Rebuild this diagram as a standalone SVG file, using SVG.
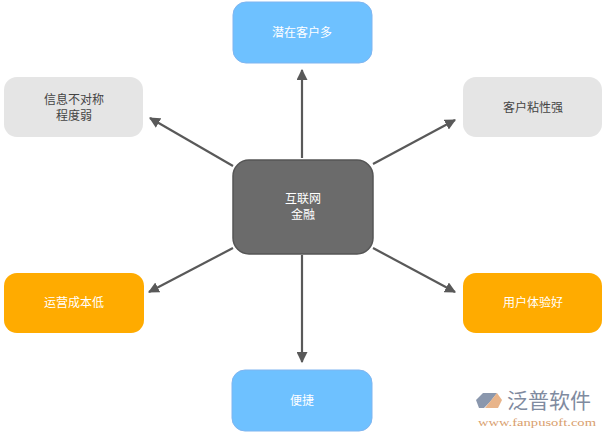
<svg xmlns="http://www.w3.org/2000/svg" width="606" height="436" viewBox="0 0 606 436">
<defs>
<style>
.blue{fill:#6ec1ff;stroke:#7fb5f0;stroke-width:1}
.gray{fill:#e5e5e5}
.orange{fill:#ffab00}
.center{fill:#6b6b6b;stroke:#555;stroke-width:1.5}
text{font-family:"Noto Sans CJK SC","Liberation Sans",sans-serif;font-size:12px;text-anchor:middle}
.w{fill:#ffffff}
.d{fill:#444444}
.conn line{stroke:#595959;stroke-width:2.2;fill:none}
</style>
<marker id="ah" viewBox="0 0 10 10" refX="9" refY="5" markerWidth="5" markerHeight="5" orient="auto" markerUnits="strokeWidth">
<path d="M0,0 L10,5 L0,10 z" fill="#595959"/>
</marker>
</defs>
<rect width="606" height="436" fill="#ffffff"/>
<g id="connectors" class="conn">
<line x1="302" y1="158" x2="302" y2="70" marker-end="url(#ah)"/>
<line x1="302" y1="255" x2="302" y2="362" marker-end="url(#ah)"/>
<line x1="233" y1="166" x2="150" y2="118" marker-end="url(#ah)"/>
<line x1="373" y1="164" x2="455" y2="120" marker-end="url(#ah)"/>
<line x1="233" y1="248" x2="149" y2="292" marker-end="url(#ah)"/>
<line x1="373" y1="248" x2="455" y2="292" marker-end="url(#ah)"/>
</g>
<g id="center">
<rect class="center" x="233" y="160" width="140" height="94" rx="16"/>
<text class="w" x="303" y="203">互联网</text>
<text class="w" x="303" y="219">金融</text>
</g>
<g id="top">
<rect class="blue" x="233" y="2" width="139" height="61" rx="13"/>
<text class="w" x="302" y="37">潜在客户多</text>
</g>
<g id="bottom">
<rect class="blue" x="232" y="370" width="140" height="61" rx="13"/>
<text class="w" x="302" y="405">便捷</text>
</g>
<g id="top-left">
<rect class="gray" x="4" y="77" width="139" height="60" rx="13"/>
<text class="d" x="74" y="104">信息不对称</text>
<text class="d" x="74" y="120">程度弱</text>
</g>
<g id="top-right">
<rect class="gray" x="463" y="77" width="139" height="60" rx="13"/>
<text class="d" x="533" y="112">客户粘性强</text>
</g>
<g id="bottom-left">
<rect class="orange" x="4" y="273" width="140" height="60" rx="13"/>
<text class="w" x="74" y="307">运营成本低</text>
</g>
<g id="bottom-right">
<rect class="orange" x="463" y="273" width="139" height="60" rx="13"/>
<text class="w" x="533" y="307">用户体验好</text>
</g>
<g id="logo">
<path d="M483,393 L497,393 L490,402 L484,408 L479,408 L476,400 Z" fill="#8a97ad"/>
<path d="M497,393 L502,400 L498,408 L485,408 Z" fill="#e8b48a"/>
<text x="549" y="408" style="font-size:21px;fill:#7f8ba0">泛普软件</text>
<text x="537" y="426" textLength="118" lengthAdjust="spacingAndGlyphs" style="font-family:'Liberation Serif',serif;font-size:10px;fill:#d9a06e">www.fanpusoft.com</text>
</g>
</svg>
